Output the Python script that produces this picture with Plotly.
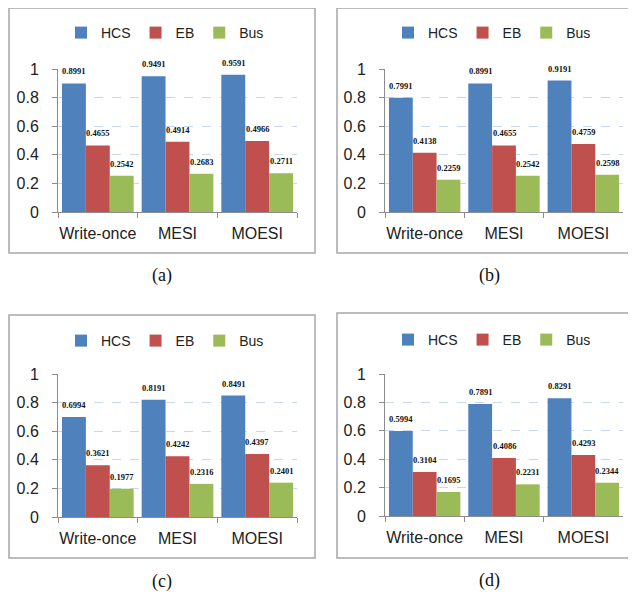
import plotly.graph_objects as go

# ---------------- data ----------------
categories = ["Write-once", "MESI", "MOESI"]
series_names = ["HCS", "EB", "Bus"]
panel_labels = ["(a)", "(b)", "(c)", "(d)"]

hcs_a = [0.8991, 0.9491, 0.9591]
eb_a = [0.4655, 0.4914, 0.4966]
bus_a = [0.2542, 0.2683, 0.2711]

hcs_b = [0.7991, 0.8991, 0.9191]
eb_b = [0.4138, 0.4655, 0.4759]
bus_b = [0.2259, 0.2542, 0.2598]

hcs_c = [0.6994, 0.8191, 0.8491]
eb_c = [0.3621, 0.4242, 0.4397]
bus_c = [0.1977, 0.2316, 0.2401]

hcs_d = [0.5994, 0.7891, 0.8291]
eb_d = [0.3104, 0.4086, 0.4293]
bus_d = [0.1695, 0.2231, 0.2344]

y_tick_vals = [0, 0.2, 0.4, 0.6, 0.8, 1]
y_tick_text = ["0", "0.2", "0.4", "0.6", "0.8", "1"]

panel_data = [
    [hcs_a, eb_a, bus_a],
    [hcs_b, eb_b, bus_b],
    [hcs_c, eb_c, bus_c],
    [hcs_d, eb_d, bus_d],
]

# ---------------- styles ----------------
colors = ["#4F81BD", "#C0504D", "#9BBB59"]
PAGE_OFF = 8                      # default body margin of the html page
W, H = 636 - PAGE_OFF, 594 - PAGE_OFF
BARGAP = 0.1

# pixel layout (in window pixels) of each panel
panel_geom = [
    dict(x0=58, x1=297, ytop=69, ybot=212, box=(9, 8, 315, 253), leg=(165, 33), cap=(162, 276)),
    dict(x0=385, x1=623, ytop=69, ybot=212, box=(337, 8, 660, 253), leg=(492, 33), cap=(489, 276)),
    dict(x0=58, x1=297, ytop=374, ybot=517, box=(9, 315, 315, 558), leg=(165, 341), cap=(162, 581)),
    dict(x0=385, x1=623, ytop=374, ybot=516, box=(337, 313, 660, 558), leg=(492, 340), cap=(489, 580)),
]


def fx(p):
    return (p - PAGE_OFF) / W


def fy(p):
    return 1 - (p - PAGE_OFF) / H


fig = go.Figure()
layout = dict(
    width=W, height=H,
    margin=dict(l=0, r=0, t=0, b=0, autoexpand=False),
    paper_bgcolor="white", plot_bgcolor="white",
    barmode="group", bargap=BARGAP, bargroupgap=0,
    font=dict(family="Liberation Sans, Arial, sans-serif", color="#222222"),
    shapes=[], annotations=[],
)

label_font = dict(family="Liberation Serif, Times New Roman, serif", size=8.5,
                  color="#111111", weight="bold")

for k, (series, g) in enumerate(zip(panel_data, panel_geom)):
    idx = "" if k == 0 else str(k + 1)
    xname, yname = "x" + idx, "y" + idx
    legname = "legend" + idx
    bar_px = (g["x1"] - g["x0"]) / len(categories) * (1 - BARGAP) / len(series_names)
    for j, (name, vals, col) in enumerate(zip(series_names, series, colors)):
        fig.add_trace(go.Bar(
            x=categories, y=vals, name=name,
            marker=dict(color=col, line=dict(width=0)),
            xaxis=xname, yaxis=yname, legend=legname,
            cliponaxis=False,
        ))
        # value labels above each bar
        for c, v in zip(categories, vals):
            layout["annotations"].append(dict(
                x=c, y=v, xref=xname, yref=yname, text=f"{v:.4f}",
                showarrow=False, xanchor="center", yanchor="middle",
                xshift=(j - 1) * bar_px, yshift=12, font=label_font,
            ))
    layout["xaxis" + idx] = dict(
        domain=[fx(g["x0"]), fx(g["x1"])], anchor=yname, automargin=False,
        showline=True, linecolor="#8C8C8C", linewidth=1,
        ticks="outside", tickson="boundaries", ticklen=5, tickcolor="#8C8C8C",
        tickangle=0, tickfont=dict(size=16, color="#222222"), ticklabelstandoff=7,
        showgrid=False, fixedrange=True,
    )
    layout["yaxis" + idx] = dict(
        domain=[fy(g["ybot"]), fy(g["ytop"])], anchor=xname, automargin=False,
        range=[0, 1], tickvals=y_tick_vals, ticktext=y_tick_text,
        showline=True, linecolor="#8C8C8C", linewidth=1,
        ticks="outside", ticklen=5, tickcolor="#8C8C8C",
        tickfont=dict(size=16, color="#222222"), ticklabelstandoff=10,
        showgrid=True, gridcolor="#C9D7EC", griddash="dash", gridwidth=1,
        zeroline=False, fixedrange=True,
    )
    layout[legname] = dict(
        orientation="h", x=fx(g["leg"][0]), y=fy(g["leg"][1]),
        xanchor="center", yanchor="middle", xref="paper", yref="paper",
        font=dict(size=14, color="#222222"), bgcolor="rgba(0,0,0,0)",
        itemwidth=30, tracegroupgap=0,
    )
    bx0, by0, bx1, by1 = g["box"]
    layout["shapes"].append(dict(
        type="rect", xref="paper", yref="paper",
        x0=fx(bx0), x1=fx(bx1), y0=fy(by1), y1=fy(by0),
        line=dict(color="#A6A6A6", width=1.5), fillcolor="rgba(0,0,0,0)", layer="below",
    ))
    layout["annotations"].append(dict(
        text=panel_labels[k], xref="paper", yref="paper",
        x=fx(g["cap"][0]), y=fy(g["cap"][1]), xanchor="center", yanchor="middle",
        showarrow=False, font=dict(family="Liberation Serif, Times New Roman, serif", size=18, color="#111111"),
    ))

fig.update_layout(**layout)
fig.write_html("out.html")
